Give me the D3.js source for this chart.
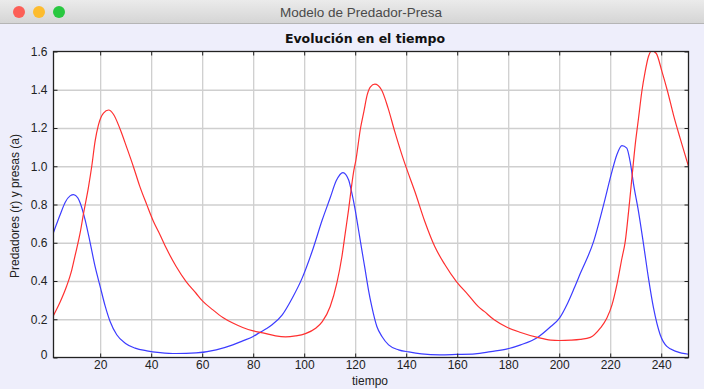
<!DOCTYPE html>
<html>
<head>
<meta charset="utf-8">
<script src="https://cdn.jsdelivr.net/npm/d3@7"></script>
<style>
  html, body { margin: 0; padding: 0; background: #eeeefb; }
  svg { display: block; }
  text { font-family: "Liberation Sans", Arial, sans-serif; }
</style>
</head>
<body>
<svg id="chart" width="704" height="389"></svg>
<script>
// values
const tiempoPresas = [1.7, 4.3, 6.3, 8.2, 9.6, 11.2, 12.2, 14.1, 16.1, 18, 20, 22, 23.9, 26.5, 29.8, 33.7, 38.3, 43.5,
  49.8, 57.6, 65.5, 72, 75.9, 80, 82.5, 85.1, 87.4, 91.4, 95.3, 99.2, 103.1, 107.1, 110.2, 112.6, 115.2,
  117.4, 118.7, 120, 121.3, 122.6, 123.9, 125.2, 126.5, 128.5, 130.5, 133.1, 137, 141, 146, 153.2, 159.7, 167,
  173.2, 179.7, 184.9, 191.5, 196.7, 200.1, 203.3, 205.9, 208.3, 213.5, 217.4, 220.7, 222.6, 224.6, 226.5,
  227.8, 229.2, 231.1, 233.1, 235, 237, 239.6, 242.2, 246.1, 250.7];
const presas = [0.654, 0.746, 0.812, 0.845, 0.852, 0.835, 0.807, 0.720, 0.598, 0.476, 0.371, 0.267, 0.188, 0.119, 0.075, 0.049, 0.035, 0.026,
  0.021, 0.024, 0.040, 0.066, 0.087, 0.110, 0.130, 0.150, 0.171, 0.223, 0.310, 0.415, 0.554, 0.720, 0.835, 0.925, 0.967,
  0.929, 0.859, 0.772, 0.668, 0.563, 0.459, 0.354, 0.267, 0.162, 0.110, 0.066, 0.040, 0.029, 0.019, 0.014, 0.016, 0.019,
  0.031, 0.045, 0.066, 0.105, 0.162, 0.206, 0.284, 0.363, 0.440, 0.607, 0.798, 0.973, 1.060, 1.108, 1.095,
  1.025, 0.903, 0.763, 0.589, 0.415, 0.258, 0.119, 0.058, 0.031, 0.017];

const tiempoPredadores = [1.7, 4.3, 6.9, 8.9, 10.2, 12.2, 13.5, 15.4, 16.7, 18, 19.3, 21.3, 23.3, 25.2, 27.8, 30.5, 33.1, 35.4,
  38.3, 40.9, 43.5, 45.9, 49.8, 53.7, 57.6, 60.1, 64.2, 68.1, 72, 75.9, 80, 83.8, 88.8, 92.7, 96.6, 100.5,
  104.5, 107.1, 110.2, 112.8, 114.8, 116.1, 117.4, 118.4, 119.3, 120.3, 122.1, 123.4, 124.7, 126, 127.7,
  130.3, 132.9, 135.5, 138.2, 140.1, 143.4, 147.3, 151.2, 155.2, 159.7, 164.3, 168.2, 170.6, 174.5, 179.7,
  184.9, 191.5, 196.7, 200.1, 204.6, 208.2, 212.2, 216.1, 218.7, 220.7, 222.6, 224.6, 225.9, 227.2, 228.5,
  229.8, 231.1, 232.4, 233.7, 235, 236.3, 238, 240.3, 242.5, 244.8, 247.4, 250.7];
const predadores = [0.220, 0.290, 0.375, 0.460, 0.535, 0.655, 0.755, 0.890, 1.000, 1.130, 1.215, 1.278, 1.294, 1.272, 1.195, 1.095, 0.995, 0.900,
  0.798, 0.711, 0.641, 0.572, 0.476, 0.397, 0.336, 0.296, 0.249, 0.209, 0.180, 0.157, 0.139, 0.129, 0.113, 0.108, 0.113, 0.125,
  0.153, 0.188, 0.267, 0.389, 0.528, 0.650, 0.772, 0.877, 0.964, 1.034, 1.200, 1.286, 1.373, 1.415, 1.429,
  1.400, 1.304, 1.182, 1.065, 0.990, 0.868, 0.711, 0.580, 0.485, 0.397, 0.328, 0.267, 0.241, 0.197, 0.157,
  0.131, 0.105, 0.091, 0.089, 0.091, 0.095, 0.105, 0.153, 0.206, 0.275, 0.380, 0.519, 0.607, 0.763, 0.938,
  1.112, 1.251, 1.391, 1.495, 1.574, 1.603, 1.591, 1.495, 1.391, 1.269, 1.147, 0.999];

const xTicks = [20, 40, 60, 80, 100, 120, 140, 160, 180, 200, 220, 240];
const yTicks = [0, 0.2, 0.4, 0.6, 0.8, 1.0, 1.2, 1.4, 1.6];

const W = 704, H = 389;
const pLeft = 53.5, pRight = 688.5, pTop = 51.5, pBottom = 357.5;

const svg = d3.select('#chart');

// window title bar
const grad = svg.append('defs').append('linearGradient')
  .attr('id', 'bar').attr('x1', 0).attr('y1', 0).attr('x2', 0).attr('y2', 1);
grad.append('stop').attr('offset', 0).attr('stop-color', '#ebebeb');
grad.append('stop').attr('offset', 1).attr('stop-color', '#d5d5d5');
svg.append('rect').attr('width', W).attr('height', 23).attr('fill', 'url(#bar)');
svg.append('line').attr('x1', 0).attr('x2', W).attr('y1', 23.5).attr('y2', 23.5)
  .attr('stroke', '#b5b5b5');
[['#fc5f57', 19], ['#fdbc2e', 39], ['#29c840', 59]].forEach(([c, cx]) => {
  svg.append('circle').attr('cx', cx).attr('cy', 12).attr('r', 6).attr('fill', c);
});
svg.append('text').attr('x', 361).attr('y', 17).attr('text-anchor', 'middle')
  .style('font-size', '13.5px').attr('fill', '#4a4a4a').text('Modelo de Predador-Presa');

svg.append('text').attr('x', 365).attr('y', 43).attr('text-anchor', 'middle')
  .style('font-family', '"DejaVu Sans", sans-serif')
  .style('font-size', '12.5px').style('font-weight', 'bold').attr('fill', '#111')
  .text('Evolución en el tiempo');

const x = d3.scaleLinear().domain([1.7, 250.7]).range([pLeft, pRight]);
const y = d3.scaleLinear().domain([0, 1.6]).range([pBottom, pTop]);

svg.append('rect').attr('x', pLeft).attr('y', pTop)
  .attr('width', pRight - pLeft).attr('height', pBottom - pTop).attr('fill', '#fff');

// grid
svg.append('g').attr('transform', `translate(0,${pBottom})`)
  .call(d3.axisBottom(x).tickValues(xTicks).tickSize(-(pBottom - pTop)).tickFormat(''))
  .call(g => g.select('.domain').remove())
  .call(g => g.selectAll('line').attr('stroke', '#cfcfcf').attr('stroke-width', 1.3));
svg.append('g').attr('transform', `translate(${pLeft},0)`)
  .call(d3.axisLeft(y).tickValues(yTicks.slice(1, -1)).tickSize(-(pRight - pLeft)).tickFormat(''))
  .call(g => g.select('.domain').remove())
  .call(g => g.selectAll('line').attr('stroke', '#cfcfcf').attr('stroke-width', 1.3));

svg.append('clipPath').attr('id', 'clip').append('rect')
  .attr('x', pLeft).attr('y', pTop).attr('width', pRight - pLeft).attr('height', pBottom - pTop);

const linePresas = d3.line()
  .x((d, i) => x(tiempoPresas[i])).y(d => y(d)).curve(d3.curveMonotoneX);
const linePred = d3.line()
  .x((d, i) => x(tiempoPredadores[i])).y(d => y(d)).curve(d3.curveMonotoneX);

const plot = svg.append('g').attr('clip-path', 'url(#clip)');
plot.append('path').datum(presas).attr('d', linePresas)
  .attr('fill', 'none').attr('stroke', '#3c3cff').attr('stroke-width', 1.2);
plot.append('path').datum(predadores).attr('d', linePred)
  .attr('fill', 'none').attr('stroke', '#ff3030').attr('stroke-width', 1.2);

// axes
const fmtY = d => d === 0 ? '0' : d3.format('.1f')(d);
const styleAxis = g => {
  g.select('.domain').remove();
  g.selectAll('line').attr('stroke', '#222');
  g.selectAll('text').style('font-size', '12px').attr('fill', '#222')
    .style('font-family', '"Liberation Sans", Arial, sans-serif');
};
svg.append('g').attr('transform', `translate(${pLeft},0)`)
  .call(d3.axisLeft(y).tickValues(yTicks).tickFormat(fmtY).tickSize(-4).tickPadding(6))
  .call(styleAxis)
  .call(g => g.selectAll('.tick').filter(d => d === 0).select('text').attr('dy', '0.1em'));
svg.append('g').attr('transform', `translate(${pRight},0)`)
  .call(d3.axisRight(y).tickValues(yTicks).tickFormat('').tickSize(-4))
  .call(styleAxis);
svg.append('g').attr('transform', `translate(0,${pBottom})`)
  .call(d3.axisBottom(x).tickValues(xTicks).tickSize(-4).tickPadding(3))
  .call(styleAxis);
svg.append('g').attr('transform', `translate(0,${pTop})`)
  .call(d3.axisTop(x).tickValues(xTicks).tickFormat('').tickSize(-4))
  .call(styleAxis);

svg.append('rect').attr('x', pLeft).attr('y', pTop)
  .attr('width', pRight - pLeft).attr('height', pBottom - pTop)
  .attr('fill', 'none').attr('stroke', '#222').attr('stroke-width', 1.3);

svg.append('text').attr('x', 370).attr('y', 385).attr('text-anchor', 'middle')
  .style('font-size', '12px').attr('fill', '#222').text('tiempo');
svg.append('text').attr('transform', 'translate(19,206) rotate(-90)')
  .attr('text-anchor', 'middle').style('font-size', '12px').attr('fill', '#222')
  .text('Predadores (r) y presas (a)');
</script>
</body>
</html>
